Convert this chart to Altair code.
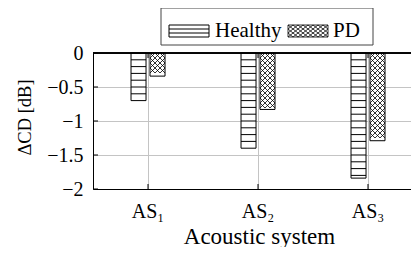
import altair as alt
import pandas as pd
import numpy as np

# ---- data ----
systems = ["AS\u2081", "AS\u2082", "AS\u2083"]
groups = ["Healthy", "PD"]
healthy = [-0.70, -1.40, -1.84]
pd_values = [-0.34, -0.83, -1.29]
y_ticks = [0, -0.5, -1, -1.5, -2]

FONT = "Liberation Serif"
FS = 20

bars = pd.DataFrame({
    "system": systems * 2,
    "group": ["Healthy"] * 3 + ["PD"] * 3,
    "value": healthy + pd_values,
})

# ---- hatch pattern helpers (derived from the values) ----
LINE_STEP = 0.1          # spacing of horizontal hatch lines (dB units)
TILE_STEP = 5.0 / 68.0   # height of one cross-hatch row (dB units)

rows_h = []
for s, v in zip(systems, healthy):
    k = 1
    while k * LINE_STEP < -v - 0.02:
        rows_h.append({"system": s, "group": "Healthy", "y": -k * LINE_STEP})
        k += 1
hatch_h = pd.DataFrame(rows_h)

rows_p = []
for s, v in zip(systems, pd_values):
    n = int(np.floor(-v / TILE_STEP + 1e-9))
    for k in range(n):
        rows_p.append({"system": s, "group": "PD", "y": -(k + 0.5) * TILE_STEP})
hatch_p = pd.DataFrame(rows_p)


def xcells(ncols, nrows, x0, x1, y0, y1):
    w = (x1 - x0) / ncols
    h = (y1 - y0) / nrows
    parts = []
    for i in range(ncols):
        for j in range(nrows):
            a, b = x0 + i * w, x0 + (i + 1) * w
            c, d = y0 + j * h, y0 + (j + 1) * h
            parts.append(f"M{a:.4f},{c:.4f}L{b:.4f},{d:.4f}M{a:.4f},{d:.4f}L{b:.4f},{c:.4f}")
    return "".join(parts)


HLINE = "M-1,0H1"
PD_TILE = xcells(3, 1, -1, 1, -1 / 3, 1 / 3)
# legend swatches: 40x12 px (size 1600 -> 20 px per unit)
LEG_H = "M-1,-0.3H1V0.3H-1ZM-1,-0.1H1M-1,0.1H1"
LEG_PD = "M-1,-0.3H1V0.3H-1Z" + xcells(8, 3, -1, 1, -0.3, 0.3)

x_scale = alt.Scale(domain=systems, paddingInner=0.691, paddingOuter=0.291, align=0.594)
x_axis = alt.Axis(
    title="Acoustic system", labelAngle=0, tickSize=0, ticks=False,
    labelBaseline="alphabetic", labelPadding=28, grid=True, bandPosition=0.5,
    gridColor="#c4c4c4", gridWidth=1, domainColor="black", domainWidth=1,
    titleX=166, titleY=54, titleBaseline="alphabetic", titleAlign="center",
    labelFont=FONT, labelFontSize=FS, titleFont=FONT, titleFontSize=23,
    titleFontWeight="normal", labelColor="black", titleColor="black",
)
xoff_scale = alt.Scale(domain=groups, paddingInner=0.21, paddingOuter=0)
y_scale = alt.Scale(domain=[-2, 0], nice=False, zero=False)
y_axis = alt.Axis(
    values=y_ticks, format=".1~f", title="\u0394CD [dB]", grid=True,
    gridColor="#c4c4c4", gridWidth=1, tickSize=0, ticks=False, labelPadding=10,
    domainColor="black", domainWidth=1, labelFlush=False, labelOverlap=False,
    titleX=-63, titleY=64, titleAngle=270, titleBaseline="alphabetic", titleAlign="center",
    labelFont=FONT, labelFontSize=FS, titleFont=FONT, titleFontSize=18.5,
    titleFontWeight="normal", labelColor="black", titleColor="black",
)


def X(field="system"):
    return alt.X(f"{field}:N", sort=systems, scale=x_scale, axis=x_axis)


def XO():
    return alt.XOffset("group:N", sort=groups, scale=xoff_scale)


def Y(field):
    return alt.Y(f"{field}:Q", scale=y_scale, axis=y_axis)


bar_layer = alt.Chart(bars).mark_bar(fill="white", stroke="black", strokeWidth=1).encode(
    x=X(), xOffset=XO(), y=Y("value"),
)

h_layer = alt.Chart(hatch_h).mark_point(shape=HLINE, size=225, filled=False, stroke="black",
                                        strokeWidth=1, opacity=1).encode(
    x=X(), xOffset=XO(), y=Y("y"),
)

p_layer = alt.Chart(hatch_p).mark_point(shape=PD_TILE, size=225, filled=False, stroke="black",
                                        strokeWidth=0.8, opacity=1).encode(
    x=X(), xOffset=XO(), y=Y("y"),
)

# ---- legend, drawn as marks above the plot area ----
one = pd.DataFrame({"g": [groups[0]]})
two = pd.DataFrame({"g": [groups[1]]})
leg_box = alt.Chart(one).mark_rect(fill="white", stroke="#444444", strokeWidth=1).encode(
    x=alt.value(68), x2=alt.value(280), y=alt.value(-45), y2=alt.value(-8),
)
leg_sym_h = alt.Chart(one).mark_point(shape=LEG_H, size=1600, filled=False, fill="white",
                                      stroke="black", strokeWidth=1, opacity=1).encode(
    x=alt.value(96), y=alt.value(-22),
)
leg_sym_p = alt.Chart(two).mark_point(shape=LEG_PD, size=1600, filled=False, fill="white",
                                      stroke="black", strokeWidth=0.8, opacity=1).encode(
    x=alt.value(215), y=alt.value(-22),
)
leg_txt_h = alt.Chart(one).mark_text(align="left", baseline="alphabetic", font=FONT,
                                     fontSize=21, color="black").encode(
    text="g:N", x=alt.value(122), y=alt.value(-16),
)
leg_txt_p = alt.Chart(two).mark_text(align="left", baseline="alphabetic", font=FONT,
                                     fontSize=21, color="black").encode(
    text="g:N", x=alt.value(240), y=alt.value(-16),
)

ticks_df = pd.DataFrame({"t": y_ticks})
ytick_layer = alt.Chart(ticks_df).mark_rule(color="black", strokeWidth=1).encode(
    y=Y("t"), x=alt.value(0), x2=alt.value(5),
)
cat_df = pd.DataFrame({"system": systems})
xtick_bot = alt.Chart(cat_df).mark_rule(color="black", strokeWidth=1).encode(
    x=X(), y=alt.value(136), y2=alt.value(131),
)
xtick_top = alt.Chart(cat_df).mark_rule(color="black", strokeWidth=1).encode(
    x=X(), y=alt.value(0), y2=alt.value(5),
)
top_border = alt.Chart(ticks_df).mark_rule(color="black", strokeWidth=1).encode(
    y=alt.datum(0, scale=y_scale, axis=y_axis),
)

chart = alt.layer(
    bar_layer, h_layer, p_layer, ytick_layer, xtick_bot, xtick_top, top_border,
    leg_box, leg_sym_h, leg_sym_p, leg_txt_h, leg_txt_p,
).properties(
    width=318, height=136,
    autosize=alt.AutoSizeParams(type="none"),
    padding={"left": 85, "top": 45, "right": 0, "bottom": 58},
).configure_view(stroke=None).configure(background="white")

chart.save("out.html", embed_options={"renderer": "svg", "actions": False})
